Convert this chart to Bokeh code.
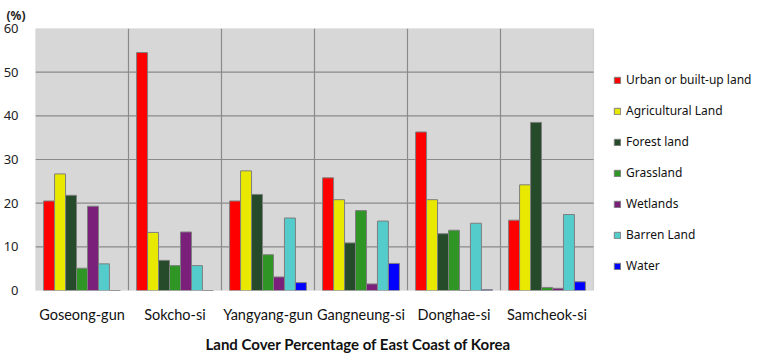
from bokeh.plotting import figure
from bokeh.models import (ColumnDataSource, Range1d, Legend, LegendItem, FixedTicker, Title,
                          BoxAnnotation)
from bokeh.transform import dodge
from bokeh.embed import file_html
from bokeh.resources import INLINE

cities = ["Goseong-gun", "Sokcho-si", "Yangyang-gun", "Gangneung-si", "Donghae-si", "Samcheok-si"]
urban = [20.5, 54.5, 20.5, 25.8, 36.3, 16.1]
agricultural = [26.7, 13.3, 27.4, 20.8, 20.8, 24.2]
forest = [21.8, 6.9, 22.0, 10.9, 13.0, 38.5]
grassland = [5.1, 5.7, 8.2, 18.3, 13.8, 0.7]
wetlands = [19.3, 13.4, 3.1, 1.5, 0.0, 0.5]
barren = [6.1, 5.7, 16.6, 15.9, 15.4, 17.4]
water = [0.0, 0.0, 1.8, 6.2, 0.2, 2.0]

series_names = ["Urban or built-up land", "Agricultural Land", "Forest land", "Grassland",
                "Wetlands", "Barren Land", "Water"]
series_keys = ["urban", "agricultural", "forest", "grassland", "wetlands", "barren", "water"]
colors = ["#ff0000", "#e8e800", "#264b2a", "#2f9626", "#7a1f7a", "#55cccc", "#0000ff"]
y_ticks = [0, 10, 20, 30, 40, 50, 60]

n = len(cities)
centers = [i + 0.5 for i in range(n)]
source = ColumnDataSource(dict(xc=centers, urban=urban, agricultural=agricultural, forest=forest,
                               grassland=grassland, wetlands=wetlands, barren=barren, water=water))

FRAME_W, PLOT_W = 719, 558   # frame spans plot area plus legend area
p = figure(x_range=Range1d(0, n * FRAME_W / PLOT_W), y_range=Range1d(y_ticks[0], y_ticks[-1]),
           frame_width=FRAME_W, frame_height=262, output_backend="svg", toolbar_location=None,
           min_border_left=29, min_border_right=0, min_border_top=20, min_border_bottom=60)

p.border_fill_color = "white"
p.background_fill_color = "white"
p.outline_line_color = None
p.xgrid.visible = False
p.ygrid.visible = False

# plot area background and border
p.add_layout(BoxAnnotation(left=0, right=n, bottom=y_ticks[0], top=y_ticks[-1],
                           fill_color="#d7d7d7", fill_alpha=1, line_color="#8a8a8a",
                           line_width=1.2, level="underlay"))

# grid lines limited to the plot area
inner = y_ticks[1:-1]
p.segment(x0=[0] * len(inner), x1=[n] * len(inner), y0=inner, y1=inner,
          line_color="#8a8a8a", line_width=1.2)
seps = list(range(1, n))
p.segment(x0=seps, x1=seps, y0=[y_ticks[0]] * len(seps), y1=[y_ticks[-1]] * len(seps),
          line_color="#8a8a8a", line_width=1.2)

pitch = 0.118
items = []
for i, (key, name, col) in enumerate(zip(series_keys, series_names, colors)):
    r = p.vbar(x=dodge("xc", (i - 3) * pitch), top=key, width=pitch, source=source,
               fill_color=col, line_color="#7f7f7f", line_width=1)
    items.append(LegendItem(label=name, renderers=[r]))

# axes
p.yaxis.ticker = FixedTicker(ticks=y_ticks)
p.yaxis.axis_line_color = None
p.yaxis.major_tick_line_color = None
p.yaxis.minor_tick_line_color = None
p.yaxis.major_label_standoff = 11
p.yaxis.major_label_text_font = "Noto Sans"
p.yaxis.major_label_text_font_size = "13px"
p.yaxis.major_label_text_color = "#222222"

p.xaxis.ticker = FixedTicker(ticks=centers)
p.xaxis.major_label_overrides = {c: name for c, name in zip(centers, cities)}
p.xaxis.axis_line_color = None
p.xaxis.major_tick_line_color = None
p.xaxis.minor_tick_line_color = None
p.xaxis.major_label_standoff = 9
p.xaxis.major_label_text_font = "Lato"
p.xaxis.major_label_text_font_size = "14.5px"
p.xaxis.major_label_text_color = "#111111"

legend = Legend(items=items, location=(578, 14))
legend.glyph_width = 8
legend.glyph_height = 8
legend.label_standoff = 5
legend.label_height = 21
legend.spacing = 10
legend.padding = 0
legend.margin = 0
legend.border_line_color = None
legend.background_fill_alpha = 0
legend.label_text_font = "Noto Sans"
legend.label_text_font_size = "12px"
legend.label_text_color = "#111111"
p.add_layout(legend)

pct = Title(text="(%)", align="left", offset=-29, standoff=9,
            text_font="Noto Sans", text_font_size="12px", text_font_style="bold",
            text_color="#222222")
p.add_layout(pct, "above")

ttl = Title(text="Land Cover Percentage of East Coast of Korea", align="left", offset=170,
            standoff=14, text_font="Lato", text_font_size="15px", text_font_style="bold",
            text_color="#111111")
p.add_layout(ttl, "below")

open("out.html", "w").write(file_html(p, INLINE))
